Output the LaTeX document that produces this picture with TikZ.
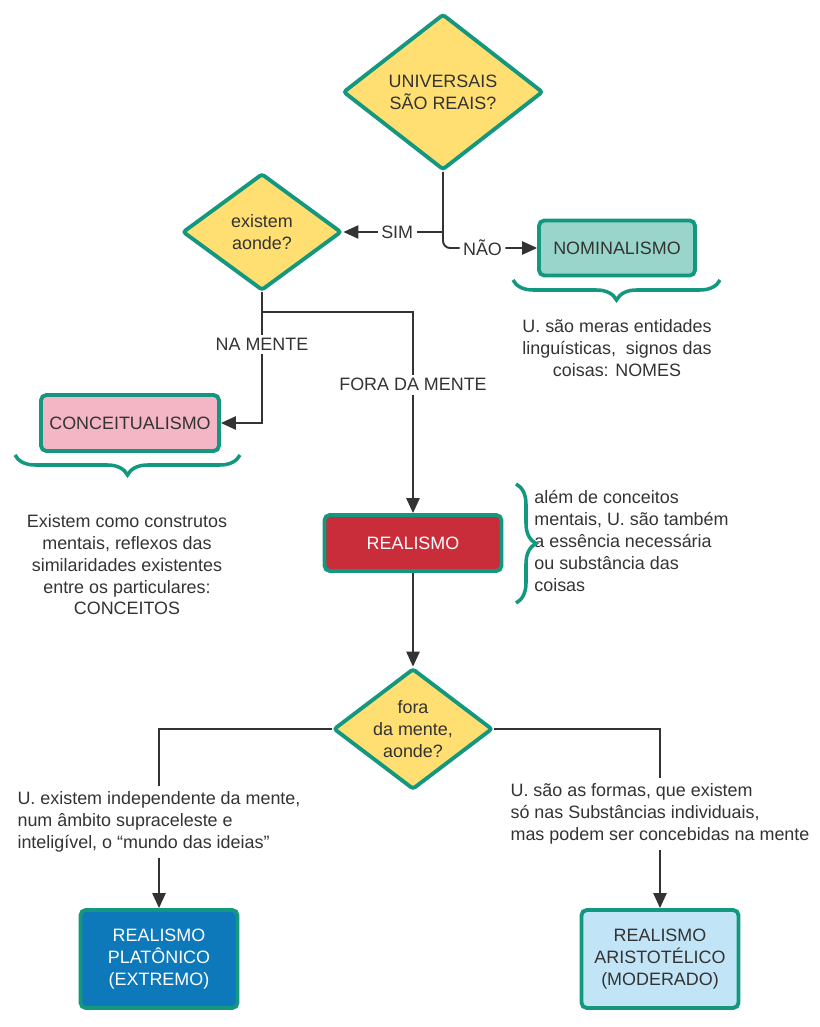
\documentclass[tikz,border=0pt]{standalone}
\usepackage{fontspec}
\setmainfont{Liberation Sans}
\usetikzlibrary{shapes.geometric,arrows.meta,decorations.pathreplacing}
\definecolor{verde}{HTML}{13987F}
\definecolor{cinza}{HTML}{333333}
\definecolor{amarelo}{HTML}{FFDF71}
\definecolor{verdeclaro}{HTML}{99D5CA}
\definecolor{rosa}{HTML}{F4B5C5}
\definecolor{vermelho}{HTML}{C92D39}
\definecolor{azul}{HTML}{0E79BA}
\definecolor{azulclaro}{HTML}{C1E4F7}

\begin{document}
\begin{tikzpicture}[x=0.02cm,y=-0.02cm,font=\fontsize{10.2}{12.4}\selectfont,text=cinza,
losango/.style={diamond,draw=verde,line width=2.2pt,fill=amarelo,inner sep=0pt,align=center,rounded corners=1.5pt},
caixa/.style={rectangle,draw=verde,line width=2.2pt,rounded corners=3pt,align=center,inner sep=2pt},
seta/.style={draw=cinza,line width=1.1pt,-{Triangle[length=8.5pt,width=7.5pt]}},
linha/.style={draw=cinza,line width=1.1pt},
rotulo/.style={fill=white,inner sep=2pt},
chave/.style={draw=verde,line width=2pt,decorate,decoration={brace,amplitude=0.4cm}}]
\useasboundingbox (0,0) rectangle (819,1027);
\node[losango,minimum width=4cm,minimum height=3.12cm] (univ) at (443,92) {UNIVERSAIS\\SÃO REAIS?};
\node[losango,minimum width=3.18cm,minimum height=2.34cm] (onde) at (262,232) {existem\\aonde?};
\node[losango,minimum width=3.18cm,minimum height=2.42cm,shape aspect=1.3] (fora) at (413,729) {fora\\da mente,\\aonde?};
\node[caixa,fill=verdeclaro,minimum width=3.12cm,minimum height=1.1cm] (nom) at (617,248) {NOMINALISMO};
\node[caixa,fill=rosa,minimum width=3.56cm,minimum height=1.12cm] (conc) at (130,423) {CONCEITUALISMO};
\node[caixa,fill=vermelho,text=white,minimum width=3.54cm,minimum height=1.12cm] (real) at (413,543) {REALISMO};
\node[caixa,fill=azul,text=white,minimum width=3.14cm,minimum height=1.96cm] (plat) at (159,959) {REALISMO\\PLATÔNICO\\(EXTREMO)};
\node[caixa,fill=azulclaro,minimum width=3.14cm,minimum height=1.96cm] (arist) at (660,959) {REALISMO\\ARISTOTÉLICO\\(MODERADO)};
\node[align=center] (nomtxt) at (617,348) {U. são meras entidades\\linguísticas,\ \ signos das\\coisas: NOMES};
\node[align=center] (conctxt) at (127,565) {Existem como construtos\\mentais, reflexos das\\similaridades existentes\\entre os particulares:\\CONCEITOS};
\node[align=left,anchor=west,inner sep=0pt] (realtxt) at (534,541) {além de conceitos\\mentais, U. são também\\a essência necessária\\ou substância das\\coisas};
\node[align=left,fill=white,inner xsep=2pt,inner ysep=3pt] (plattxt) at (159,822) {U. existem independente da mente,\\num âmbito supraceleste e\\inteligível, o “mundo das ideias\symbol{34}};
\node[align=left,fill=white,inner xsep=2pt,inner ysep=3pt] (aristxt) at (660,814) {U. são as formas, que existem\\só nas Substâncias individuais,\\mas podem ser concebidas na mente};
\draw[seta] (univ.south) |- node[rotulo,pos=0.73]{SIM} (onde.east);
\draw[seta,rounded corners=4pt] (univ.south) |- node[rotulo,pos=0.71]{NÃO} (nom.west);
\draw[seta] (onde.south) |- node[rotulo,pos=0.2]{NA MENTE} (conc.east);
\draw[seta] (onde.south) -- ++(0,20) -| node[rotulo,pos=0.68]{FORA DA MENTE} (real.north);
\draw[seta] (real.south) -- (fora.north);
\draw[linha] (fora.west) -| (plattxt.north);
\draw[seta] (plattxt.south) -- (plat.north);
\draw[linha] (fora.east) -| (aristxt.north);
\draw[seta] (aristxt.south) -- (arist.north);
\draw[chave] (720,280) -- (513,280);
\draw[chave] (240,455) -- (15,455);
\draw[chave] (516,484) -- (516,603);
\end{tikzpicture}
\end{document}
